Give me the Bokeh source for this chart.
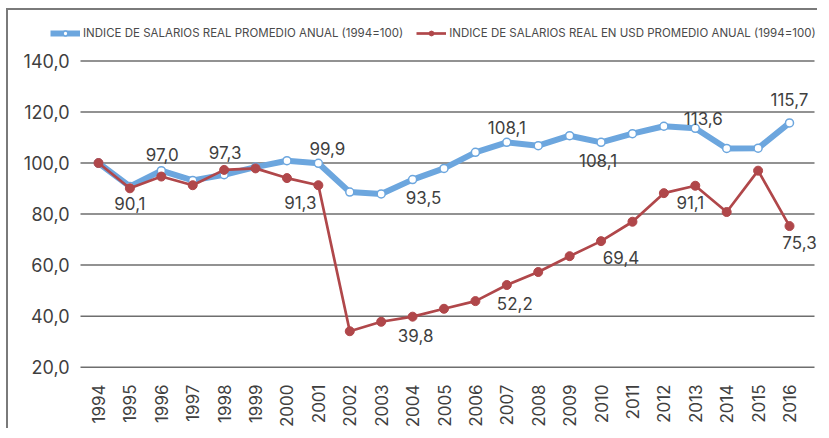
import math
from bokeh.plotting import figure
from bokeh.models import Range1d, FixedTicker, Legend, LegendItem, ColumnDataSource, LabelSet
from bokeh.core.properties import value
from bokeh.embed import file_html
from bokeh.resources import INLINE

years = list(range(1994, 2017))
real_index = [100.0, 90.8, 97.0, 93.2, 95.4, 98.4, 100.9, 99.9, 88.6, 87.9, 93.5, 97.9,
              104.2, 108.1, 106.8, 110.7, 108.1, 111.5, 114.4, 113.6, 105.7, 105.8, 115.7]
usd_index = [100.0, 90.1, 94.7, 91.3, 97.3, 97.9, 94.1, 91.3, 34.1, 37.8, 39.8, 42.9,
             45.9, 52.2, 57.3, 63.5, 69.4, 77.0, 88.2, 91.1, 80.8, 97.0, 75.3]
series_names = ["INDICE DE SALARIOS REAL PROMEDIO ANUAL (1994=100)",
                "INDICE DE SALARIOS REAL EN USD PROMEDIO ANUAL (1994=100)"]
y_ticks = [20, 40, 60, 80, 100, 120, 140]
y_tick_labels = ["20,0", "40,0", "60,0", "80,0", "100,0", "120,0", "140,0"]

# which points carry a value label
label_series = ["usd", "real", "usd", "usd", "real", "real", "real", "real", "real", "real",
                "usd", "usd", "usd", "usd", "usd"]
label_years = [1995, 1996, 1998, 2001, 2001, 2004, 2007, 2010, 2013, 2016,
               2004, 2007, 2010, 2013, 2016]
# label offsets in screen px (dx right, dy down)
label_dx = [0, 1, 1, -18, 9, 11, 0, -3, 8, 0, 3, 8, 20, -5, 10]
label_dy = [15, -16, -17, 17, -15, 18, -15, 18, -10, -23, 19, 18, 16, 17, 16]

FONT = "Inter"
TEXT = "#3f3f3f"
BLUE = "#6ca6de"
RED = "#b0474a"
GRID_X0, GRID_X1 = 1993.427, 2016.796   # horizontal extent of the grid lines

p = figure(width=811, height=420, output_backend="svg", toolbar_location=None,
           x_range=Range1d(1992.408, 2016.955), y_range=Range1d(19.5, 155.05),
           min_border_left=40, min_border_right=0, min_border_top=12, min_border_bottom=57)
p.styles = {"border-left": "2px solid #7a7a7a", "border-top": "2px solid #7a7a7a",
            "margin-left": "6px", "margin-top": "8px"}
p.outline_line_color = None
p.background_fill_color = "white"
p.border_fill_color = "white"

p.xgrid.visible = False
p.ygrid.visible = False
p.segment(x0=[GRID_X0] * len(y_ticks), x1=[GRID_X1] * len(y_ticks), y0=y_ticks, y1=y_ticks,
          line_color="#6e6e6e", line_width=1.5)

p.yaxis.ticker = FixedTicker(ticks=y_ticks)
p.yaxis.major_label_overrides = {t: l for t, l in zip(y_ticks, y_tick_labels)}
p.xaxis.ticker = FixedTicker(ticks=years)
p.xaxis.major_label_orientation = math.pi / 2
for ax in (p.xaxis, p.yaxis):
    ax.axis_line_color = None
    ax.major_tick_line_color = None
    ax.minor_tick_line_color = None
    ax.major_label_text_font = FONT
    ax.major_label_text_color = TEXT
p.xaxis.major_label_standoff = 10
p.yaxis.major_label_standoff = -27
p.yaxis.major_label_text_font_size = "18px"
p.xaxis.major_label_text_font_size = "17px"

src = ColumnDataSource(dict(x=years, real=real_index, usd=usd_index))
bl = p.line("x", "real", source=src, line_color=BLUE, line_width=6)
bc = p.scatter("x", "real", source=src, size=8, fill_color="white", line_color=BLUE, line_width=1.5)
rl = p.line("x", "usd", source=src, line_color=RED, line_width=2.7)
rc = p.scatter("x", "usd", source=src, size=9, fill_color=RED, line_color=RED)

lookup = {"real": dict(zip(years, real_index)), "usd": dict(zip(years, usd_index))}
lv = [lookup[s][y] for s, y in zip(label_series, label_years)]
lsrc = ColumnDataSource(dict(
    x=label_years, y=lv,
    t=[f"{v:.1f}".replace(".", ",") for v in lv],
    dx=label_dx, dy=[-d for d in label_dy]))
p.add_layout(LabelSet(x="x", y="y", text="t", source=lsrc, x_offset="dx", y_offset="dy",
                      text_align="center", text_baseline="middle",
                      text_font=value(FONT), text_font_size=value("17px"), text_color=TEXT))

legend = Legend(items=[LegendItem(label=series_names[0], renderers=[bl, bc]),
                       LegendItem(label=series_names[1], renderers=[rl, rc])],
                orientation="horizontal", location=(2, 328),
                label_text_font=FONT, label_text_font_size="11.5px", label_text_color="#4a4a4a",
                glyph_width=30, glyph_height=12, label_standoff=3, spacing=13,
                padding=0, margin=0, border_line_color=None, background_fill_alpha=0,
                label_height=14)
p.add_layout(legend)

open("out.html", "w").write(file_html(p, INLINE))
